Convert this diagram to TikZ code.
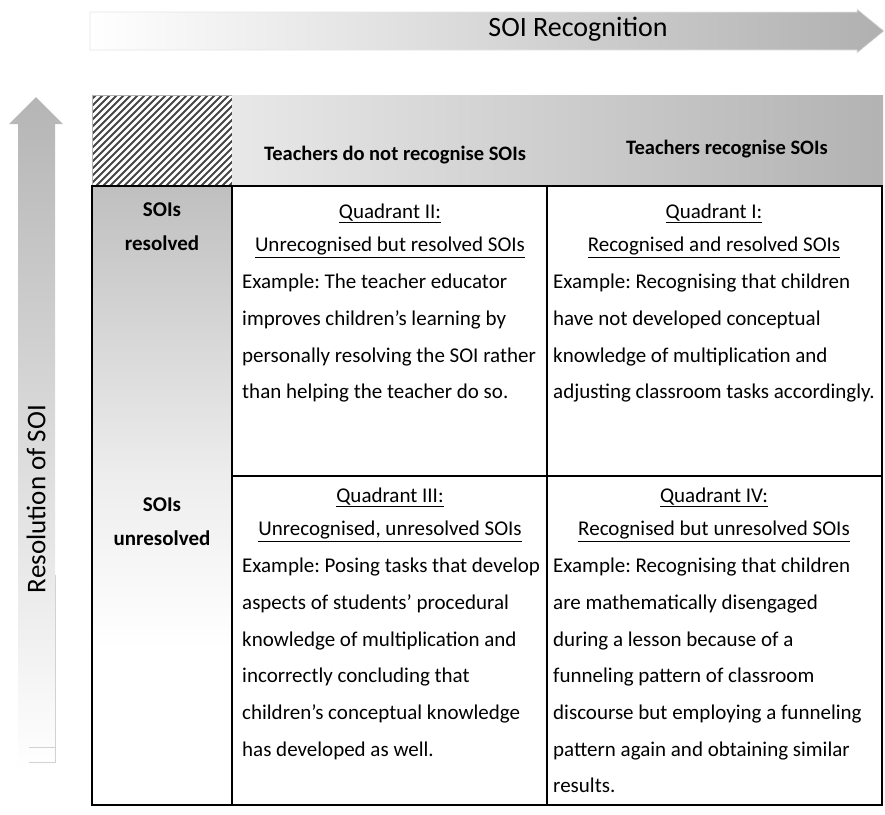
\documentclass[tikz,border=0pt]{standalone}
\usepackage{fontspec}
\setmainfont{Carlito}
\frenchspacing
\begin{document}
\begin{tikzpicture}[x=1pt,y=-1pt,
  gridline/.style={draw=black, line width=1.1pt},
  hatchline/.style={draw=gray!55!black, line width=2pt},
  bodytxt/.style={font=\fontsize{21}{36.7}\selectfont, align=left, inner sep=0pt, anchor=north west},
  titletxt/.style={font=\fontsize{21}{33.5}\selectfont, align=center, inner sep=0pt},
  rowlab/.style={font=\bfseries\fontsize{21}{34}\selectfont, align=center, inner sep=0pt},
  headlab/.style={font=\bfseries\fontsize{20.5}{22}\selectfont, inner sep=0pt},
  axislab/.style={font=\fontsize{28}{30}\selectfont, inner sep=0pt},
  sidelab/.style={font=\fontsize{27}{30}\selectfont, inner sep=0pt}]
\useasboundingbox (0,0) rectangle (885,814);
% top arrow
\path[left color=white, right color=gray!62, draw=gray!20, line width=0.6pt]
  (90,12) -- (857,12) -- (857,9) -- (884,31) -- (857,53) -- (857,50) -- (90,50) -- cycle;
\node[axislab] (toplab) at (578,29) {SOI Recognition};
% left arrow
\path[top color=gray!58, bottom color=white] (18,770) -- (18,124) -- (9,124) -- (36,97) -- (63,124) -- (55,124) -- (55,770) -- cycle;
\draw[gray!35, line width=0.8pt] (55,575) -- (55,762) -- (29,762);
\draw[gray!35, line width=0.8pt] (29,747) -- (55,747);
\node[sidelab, rotate=90] (leftlab) at (36,499) {Resolution of SOI};
% hatched corner
\fill[white] (92,95) rectangle (232,186);
\begin{scope}
  \clip (92,95) rectangle (232,186);
  \foreach \i in {-98,-91,...,140} {
    \draw[hatchline] (92+\i,190) -- ++(100,-100);
  }
\end{scope}
\draw[gray!60, line width=0.6pt] (92,95) rectangle (232,186);
% header
\shade[left color=gray!18, right color=gray!60] (232,95) rectangle (883,186);
\node[headlab] (h1) at (395,155) {Teachers do not recognise SOIs};
\node[headlab] (h2) at (727,149) {Teachers recognise SOIs};
% left column
\shade[top color=gray!50, bottom color=gray!14] (92,186) rectangle (232,476);
\shade[top color=gray!14, bottom color=white] (92,476) rectangle (232,650);
\node[rowlab] (r1) at (162,227) {SOIs\\resolved};
\node[rowlab] (r2) at (162,522) {SOIs\\unresolved};
% grid
\draw[gridline] (92,186) rectangle (882,805);
\draw[gridline] (232,186) -- (232,805);
\draw[gridline] (547,186) -- (547,805);
\draw[gridline] (232,476) -- (882,476);
% quadrant II
\node[titletxt] (t2) at (390,230.5) {\underline{Quadrant II:}\\\underline{Unrecognised but resolved SOIs}};
\node[bodytxt] (b2) at (242,274) {Example: The teacher educator\\improves children’s learning by\\personally resolving the SOI rather\\than helping the teacher do so.};
% quadrant I
\node[titletxt] (t1) at (714,230.5) {\underline{Quadrant I:}\\\underline{Recognised and resolved SOIs}};
\node[bodytxt] (b1) at (553,274) {Example: Recognising that children\\have not developed conceptual\\knowledge of multiplication and\\adjusting classroom tasks accordingly.};
% quadrant III
\node[titletxt] (t3) at (390,514.5) {\underline{Quadrant III:}\\\underline{Unrecognised, unresolved SOIs}};
\node[bodytxt] (b3) at (242,558) {Example: Posing tasks that develop\\aspects of students’ procedural\\knowledge of multiplication and\\incorrectly concluding that\\children’s conceptual knowledge\\has developed as well.};
% quadrant IV
\node[titletxt] (t4) at (714,514.5) {\underline{Quadrant IV:}\\\underline{Recognised but unresolved SOIs}};
\node[bodytxt] (b4) at (553,558) {Example: Recognising that children\\are mathematically disengaged\\during a lesson because of a\\funneling pattern of classroom\\discourse but employing a funneling\\pattern again and obtaining similar\\results.};
\end{tikzpicture}
\end{document}
